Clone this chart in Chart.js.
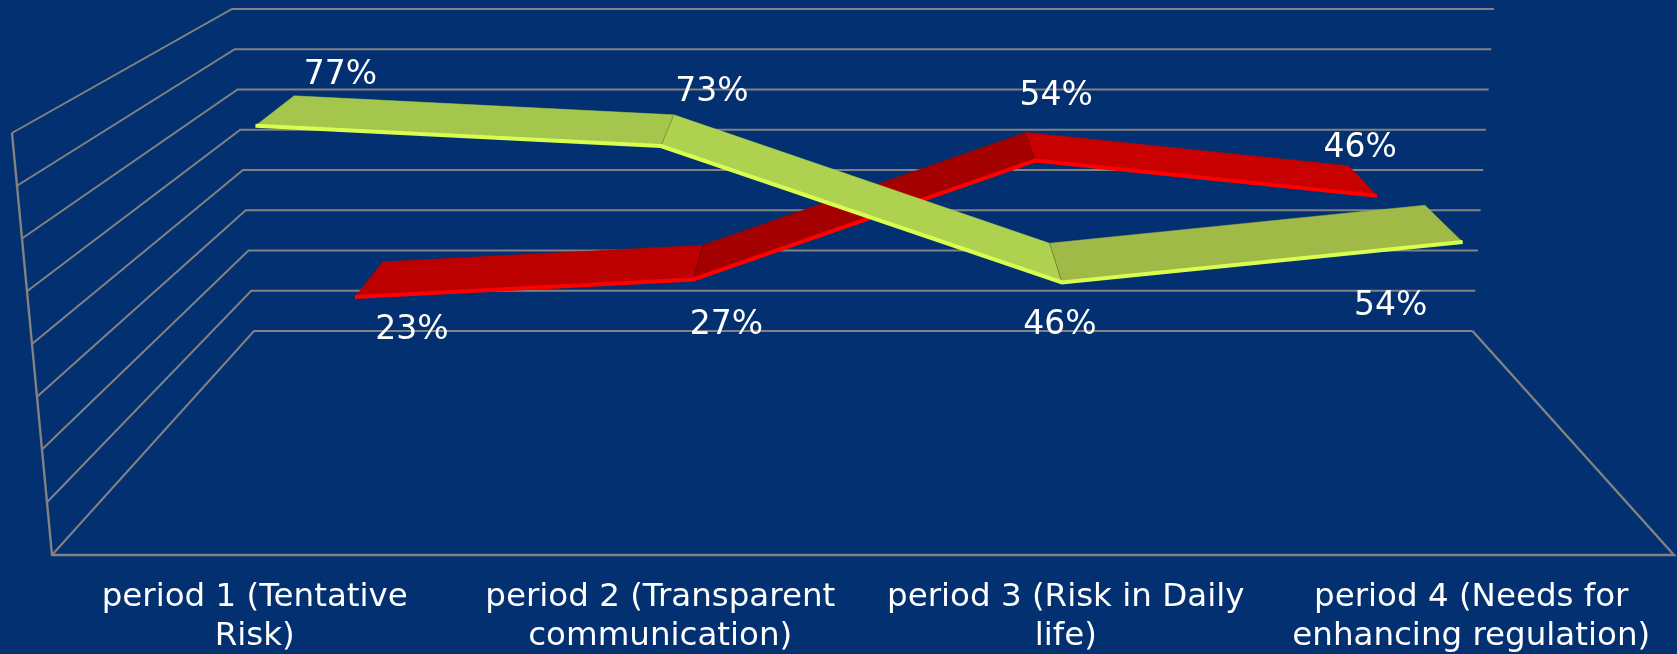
<!DOCTYPE html>
<html>
<head>
<meta charset="utf-8">
<title>Risk periods</title>
<style>
  html, body { margin: 0; padding: 0; background: #033070; }
  canvas { display: block; }
</style>
<script src="https://cdn.jsdelivr.net/npm/chart.js@4"></script>
</head>
<body>
<canvas id="riskChart" width="1677" height="654"></canvas>
<script>
const categories = [
    ['period 1 (Tentative', 'Risk)'],
    ['period 2 (Transparent', 'communication)'],
    ['period 3 (Risk in Daily', 'life)'],
    ['period 4 (Needs for', 'enhancing regulation)']
];
const greenValues = [77, 73, 46, 54];
const redValues = [23, 27, 54, 46];
const yMax = 80;
const yStep = 10;

// 3d box, the scale area is the front plane
const frontLean = 40;
const backBottom = { y: 331, left: 254, right: 1472.5 };
const backTop = { y: 9, left: 232, right: 1494 };

// depth of each ribbon edge, 0 = front plane, 1 = back wall
const greenDepth = [0.18, 0.415];
const redDepth = [0.70, 0.88];

const greenFaces = ['#a5c64c', '#aed24f', '#a0b947'];
const redFaces = ['#bc0000', '#a40000', '#c80000'];

// label position relative to the front edge of the ribbon
const greenLabelOffsets = [[85, -50], [51, -54], [-2, 43], [-72, 64]];
const redLabelOffsets = [[57, 33], [33, 46], [21, -64], [-17, -47]];

const gridColor = '#828282';

function lerp(a, b, k) {
    return a + (b - a) * k;
}

function project(chart, px, py, depth) {
    const area = chart.chartArea;
    const t = (px - area.left) / area.width;
    const h = (area.bottom - py) / area.height;

    const frontLeft = area.left - frontLean * h;
    const frontRight = area.right + frontLean * h;
    const backLeft = lerp(backBottom.left, backTop.left, h);
    const backRight = lerp(backBottom.right, backTop.right, h);
    const backY = lerp(backBottom.y, backTop.y, h);

    return {
        x: lerp(lerp(frontLeft, frontRight, t), lerp(backLeft, backRight, t), depth),
        y: lerp(py, backY, depth)
    };
}

function strokePath(ctx, points, color, width) {
    ctx.beginPath();
    points.forEach((p, i) => i ? ctx.lineTo(p.x, p.y) : ctx.moveTo(p.x, p.y));
    ctx.strokeStyle = color;
    ctx.lineWidth = width;
    ctx.stroke();
}

const box3d = {
    id: 'box3d',
    // moves the library's points onto the ribbon's front edge
    afterDatasetsUpdate(chart) {
        chart.data.datasets.forEach((ds, i) => {
            const meta = chart.getDatasetMeta(i);
            ds.data.forEach((v, j) => {
                const px = chart.scales.x.getPixelForValue(j);
                const py = chart.scales.y.getPixelForValue(v);
                const p = project(chart, px, py, ds.depth[0]);
                meta.data[j].x = p.x;
                meta.data[j].y = p.y;
            });
        });
    },
    beforeDatasetsDraw(chart) {
        const ctx = chart.ctx;
        const area = chart.chartArea;
        const y = chart.scales.y;
        ctx.save();
        ctx.lineJoin = 'miter';
        y.ticks.forEach(tick => {
            const py = y.getPixelForValue(tick.value);
            const line = [
                project(chart, area.left, py, 0),
                project(chart, area.left, py, 1),
                project(chart, area.right, py, 1)
            ];
            strokePath(ctx, line, gridColor, 2);
        });
        // front upright of the left wall and the rest of the floor
        strokePath(ctx, [
            project(chart, area.left, area.top, 0),
            project(chart, area.left, area.bottom, 0),
            project(chart, area.right, area.bottom, 0),
            project(chart, area.right, area.bottom, 1)
        ], gridColor, 2.4);
        ctx.restore();
    },
    beforeDatasetDraw(chart, args) {
        const ds = chart.data.datasets[args.index];
        const ctx = chart.ctx;
        const edge = (j, d) => project(chart,
            chart.scales.x.getPixelForValue(j),
            chart.scales.y.getPixelForValue(ds.data[j]), d);

        ctx.save();
        for (let j = 0; j < ds.data.length - 1; j++) {
            const quad = [edge(j, ds.depth[0]), edge(j, ds.depth[1]),
                edge(j + 1, ds.depth[1]), edge(j + 1, ds.depth[0])];
            ctx.beginPath();
            quad.forEach((p, i) => i ? ctx.lineTo(p.x, p.y) : ctx.moveTo(p.x, p.y));
            ctx.closePath();
            ctx.fillStyle = ds.faces[j];
            ctx.fill();
            ctx.strokeStyle = ds.faces[j];
            ctx.lineWidth = 0.5;
            ctx.stroke();
        }
        // thin seam where the ribbon changes direction
        for (let j = 1; j < ds.data.length - 1; j++) {
            strokePath(ctx, [edge(j, ds.depth[0]), edge(j, ds.depth[1])], 'rgba(0,0,0,0.25)', 1);
        }
        ctx.restore();
    },
    afterDatasetsDraw(chart) {
        const ctx = chart.ctx;
        ctx.save();
        ctx.font = '33px "DejaVu Sans"';
        ctx.fillStyle = '#ffffff';
        ctx.textAlign = 'center';
        ctx.textBaseline = 'middle';
        chart.data.datasets.forEach((ds, i) => {
            chart.getDatasetMeta(i).data.forEach((pt, j) => {
                const off = ds.labelOffsets[j];
                ctx.fillText(ds.data[j] + '%', pt.x + off[0], pt.y + off[1]);
            });
        });
        ctx.restore();
    }
};

new Chart(document.getElementById('riskChart'), {
    type: 'line',
    data: {
        labels: categories,
        datasets: [
            {
                label: 'Series 1',
                data: greenValues,
                depth: greenDepth,
                faces: greenFaces,
                labelOffsets: greenLabelOffsets,
                borderColor: '#d8ff50',
                borderWidth: 4,
                pointRadius: 0,
                tension: 0,
                clip: false
            },
            {
                label: 'Series 2',
                data: redValues,
                depth: redDepth,
                faces: redFaces,
                labelOffsets: redLabelOffsets,
                borderColor: '#ff0000',
                borderWidth: 4,
                pointRadius: 0,
                tension: 0,
                clip: false
            }
        ]
    },
    plugins: [box3d],
    options: {
        responsive: false,
        animation: false,
        layout: { padding: { left: 52, right: 3, top: 133, bottom: 0 } },
        plugins: {
            legend: { display: false },
            tooltip: { enabled: false }
        },
        scales: {
            x: {
                offset: true,
                grid: { display: false },
                border: { display: false },
                afterFit(scale) { scale.height = 99; },
                ticks: {
                    color: '#ffffff',
                    maxRotation: 0,
                    minRotation: 0,
                    autoSkip: false,
                    padding: 15,
                    font: { family: 'DejaVu Sans', size: 32.5, lineHeight: 1.2 }
                }
            },
            y: {
                display: false,
                min: 0,
                max: yMax,
                ticks: { stepSize: yStep }
            }
        }
    }
});
</script>
</body>
</html>
